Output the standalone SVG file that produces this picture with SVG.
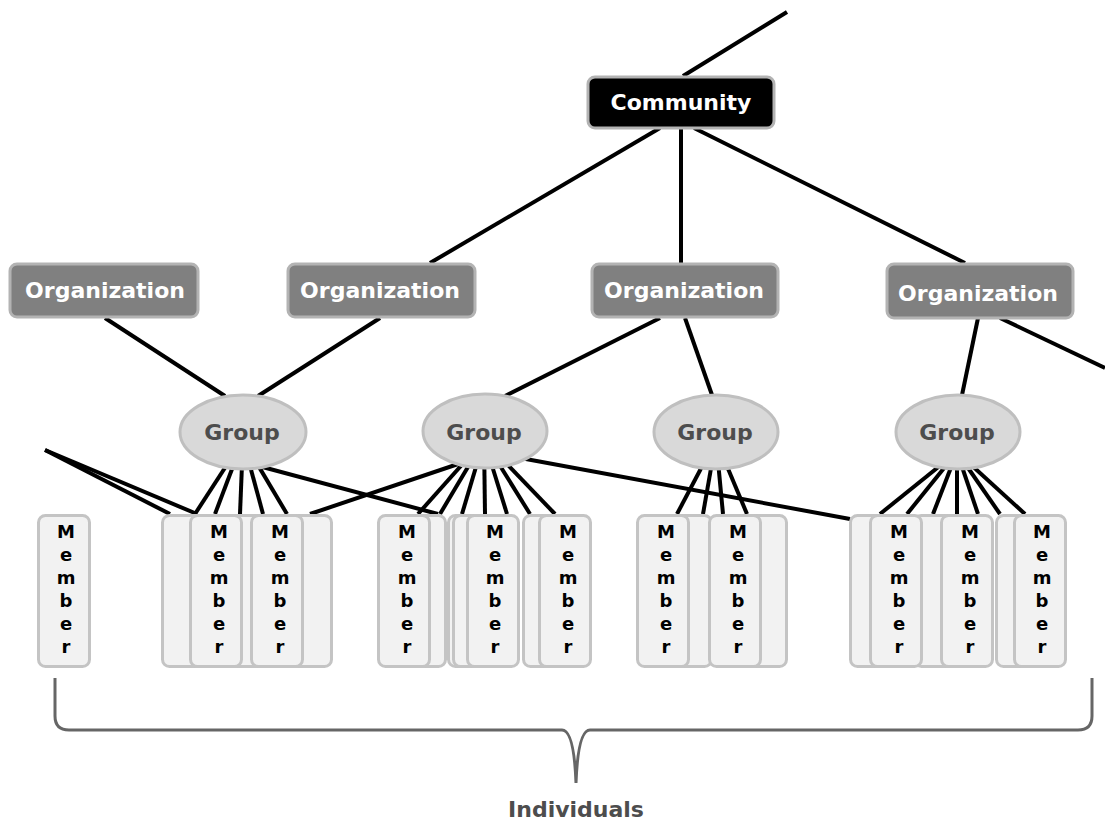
<svg xmlns="http://www.w3.org/2000/svg" width="1105" height="823" viewBox="0 0 1105 823">
  <style>
    .edge { stroke: #000; stroke-width: 4; fill: none; stroke-linecap: butt; }
    .box-text { font-family: "DejaVu Sans", Verdana, sans-serif; font-weight: bold; font-size: 22px; text-anchor: middle; }
    .community rect { fill: #000; stroke: #b3b3b3; stroke-width: 3; }
    .org rect { fill: #808080; stroke: #b3b3b3; stroke-width: 3; }
    .org text, .community text { fill: #fff; }
    .group ellipse { fill: #d9d9d9; stroke: #bfbfbf; stroke-width: 3; }
    .group text { fill: #4d4d4d; }
    .member rect { fill: #f2f2f2; stroke: #c4c4c4; stroke-width: 3; }
    .mletter { font-family: "DejaVu Sans", Verdana, sans-serif; font-weight: bold; font-size: 18px; text-anchor: middle; fill: #000; }
    .brace { fill: none; stroke: #666; stroke-width: 3; }
    .caption { font-family: "DejaVu Sans", Verdana, sans-serif; font-weight: bold; font-size: 22px; text-anchor: middle; fill: #4d4d4d; }
  </style>
  <defs>
    <!-- vertical "Member" label, one letter per line -->
    <g id="member-label">
      <text class="mletter" x="0" y="24">M</text>
      <text class="mletter" x="0" y="47">e</text>
      <text class="mletter" x="0" y="70">m</text>
      <text class="mletter" x="0" y="93">b</text>
      <text class="mletter" x="0" y="116">e</text>
      <text class="mletter" x="0" y="139">r</text>
    </g>
  </defs>

  <!-- connectors -->
  <g id="connectors">
    <path class="edge" d="M683 76 L787 12"/>
    <path class="edge" d="M660 128 L430 263"/>
    <path class="edge" d="M681 128 L681 263"/>
    <path class="edge" d="M694 128 L965 263"/>
    <path class="edge" d="M105 318 L225 396"/>
    <path class="edge" d="M380 318 L258 396"/>
    <path class="edge" d="M660 318 L505 396"/>
    <path class="edge" d="M685 318 L712 395"/>
    <path class="edge" d="M978 318 L962 395"/>
    <path class="edge" d="M1000 318 L1105 368"/>
    <!-- group 1 fan -->
    <path class="edge" d="M243 440 L195 514"/>
    <path class="edge" d="M243 440 L215 514"/>
    <path class="edge" d="M243 440 L240 514"/>
    <path class="edge" d="M243 440 L263 514"/>
    <path class="edge" d="M243 440 L287 514"/>
    <path class="edge" d="M255 465 L438 514"/>
    <!-- loose ends from the left -->
    <path class="edge" d="M45 450 L197 514"/>
    <path class="edge" d="M45 450 L170 514"/>
    <!-- group 2 fan -->
    <path class="edge" d="M470 460 L310 514"/>
    <path class="edge" d="M484 440 L418 514"/>
    <path class="edge" d="M484 440 L440 514"/>
    <path class="edge" d="M484 440 L462 514"/>
    <path class="edge" d="M484 440 L485 514"/>
    <path class="edge" d="M484 440 L507 514"/>
    <path class="edge" d="M484 440 L530 514"/>
    <path class="edge" d="M484 440 L555 514"/>
    <path class="edge" d="M515 457 L850 519"/>
    <!-- group 3 fan -->
    <path class="edge" d="M716 440 L677 514"/>
    <path class="edge" d="M716 440 L703 514"/>
    <path class="edge" d="M716 440 L723 514"/>
    <path class="edge" d="M716 440 L747 514"/>
    <!-- group 4 fan -->
    <path class="edge" d="M957 452 L880 514"/>
    <path class="edge" d="M957 452 L907 514"/>
    <path class="edge" d="M957 452 L933 514"/>
    <path class="edge" d="M957 452 L957 514"/>
    <path class="edge" d="M957 452 L978 514"/>
    <path class="edge" d="M957 452 L1000 514"/>
    <path class="edge" d="M957 452 L1025 514"/>
  </g>

  <!-- top level -->
  <g id="community" class="community">
    <rect x="588" y="77" width="186" height="51" rx="7"/>
    <text class="box-text" x="681" y="110">Community</text>
  </g>

  <g id="org1" class="org">
    <rect x="10" y="264" width="188" height="53" rx="7"/>
    <text class="box-text" x="105" y="298">Organization</text>
  </g>
  <g id="org2" class="org">
    <rect x="288" y="264" width="187" height="53" rx="7"/>
    <text class="box-text" x="380" y="298">Organization</text>
  </g>
  <g id="org3" class="org">
    <rect x="592" y="264" width="186" height="53" rx="7"/>
    <text class="box-text" x="684" y="298">Organization</text>
  </g>
  <g id="org4" class="org">
    <rect x="887" y="264" width="186" height="54" rx="7"/>
    <text class="box-text" x="978" y="301">Organization</text>
  </g>

  <g id="group1" class="group">
    <ellipse cx="243" cy="432" rx="63" ry="37"/>
    <text class="box-text" x="242" y="440">Group</text>
  </g>
  <g id="group2" class="group">
    <ellipse cx="485" cy="431" rx="62" ry="37"/>
    <text class="box-text" x="484" y="440">Group</text>
  </g>
  <g id="group3" class="group">
    <ellipse cx="716" cy="432" rx="62" ry="37"/>
    <text class="box-text" x="715" y="440">Group</text>
  </g>
  <g id="group4" class="group">
    <ellipse cx="958" cy="432" rx="62" ry="37"/>
    <text class="box-text" x="957" y="440">Group</text>
  </g>

  <!-- members -->
  <g id="member-solo" class="member">
    <rect x="38.5" y="515.5" width="51" height="151" rx="7"/>
    <use href="#member-label" x="66" y="514"/>
  </g>

  <g id="members-g1" class="member">
    <rect x="162.5" y="515.5" width="51" height="151" rx="7"/>
    <rect x="214.5" y="515.5" width="51" height="151" rx="7"/>
    <rect x="280.5" y="515.5" width="51" height="151" rx="7"/>
    <rect x="190.5" y="515.5" width="51" height="151" rx="7"/>
    <use href="#member-label" x="219" y="514"/>
    <rect x="251.5" y="515.5" width="51" height="151" rx="7"/>
    <use href="#member-label" x="280" y="514"/>
  </g>

  <g id="members-g2" class="member">
    <rect x="394.5" y="515.5" width="51" height="151" rx="7"/>
    <rect x="378.5" y="515.5" width="51" height="151" rx="7"/>
    <use href="#member-label" x="407" y="514"/>
    <rect x="448.5" y="515.5" width="51" height="151" rx="7"/>
    <rect x="453.5" y="515.5" width="51" height="151" rx="7"/>
    <rect x="467.5" y="515.5" width="51" height="151" rx="7"/>
    <use href="#member-label" x="495" y="514"/>
    <rect x="523.5" y="515.5" width="51" height="151" rx="7"/>
    <rect x="539.5" y="515.5" width="51" height="151" rx="7"/>
    <use href="#member-label" x="568" y="514"/>
  </g>

  <g id="members-g3" class="member">
    <rect x="660.5" y="515.5" width="51" height="151" rx="7"/>
    <rect x="637.5" y="515.5" width="51" height="151" rx="7"/>
    <use href="#member-label" x="666" y="514"/>
    <rect x="735.5" y="515.5" width="51" height="151" rx="7"/>
    <rect x="709.5" y="515.5" width="51" height="151" rx="7"/>
    <use href="#member-label" x="738" y="514"/>
  </g>

  <g id="members-g4" class="member">
    <rect x="850.5" y="515.5" width="51" height="151" rx="7"/>
    <rect x="914.5" y="515.5" width="51" height="151" rx="7"/>
    <rect x="870.5" y="515.5" width="51" height="151" rx="7"/>
    <use href="#member-label" x="899" y="514"/>
    <rect x="941.5" y="515.5" width="51" height="151" rx="7"/>
    <use href="#member-label" x="970" y="514"/>
    <rect x="996.5" y="515.5" width="51" height="151" rx="7"/>
    <rect x="1014.5" y="515.5" width="51" height="151" rx="7"/>
    <use href="#member-label" x="1042" y="514"/>
  </g>

  <!-- brace under all members -->
  <g id="individuals">
    <path class="brace" d="M55 678 L55 716 Q55 730 69 730 L562 730 Q574 730 576 783 Q578 730 590 730 L1078 730 Q1092 730 1092 716 L1092 678"/>
    <text class="caption" x="576" y="817">Individuals</text>
  </g>
</svg>
